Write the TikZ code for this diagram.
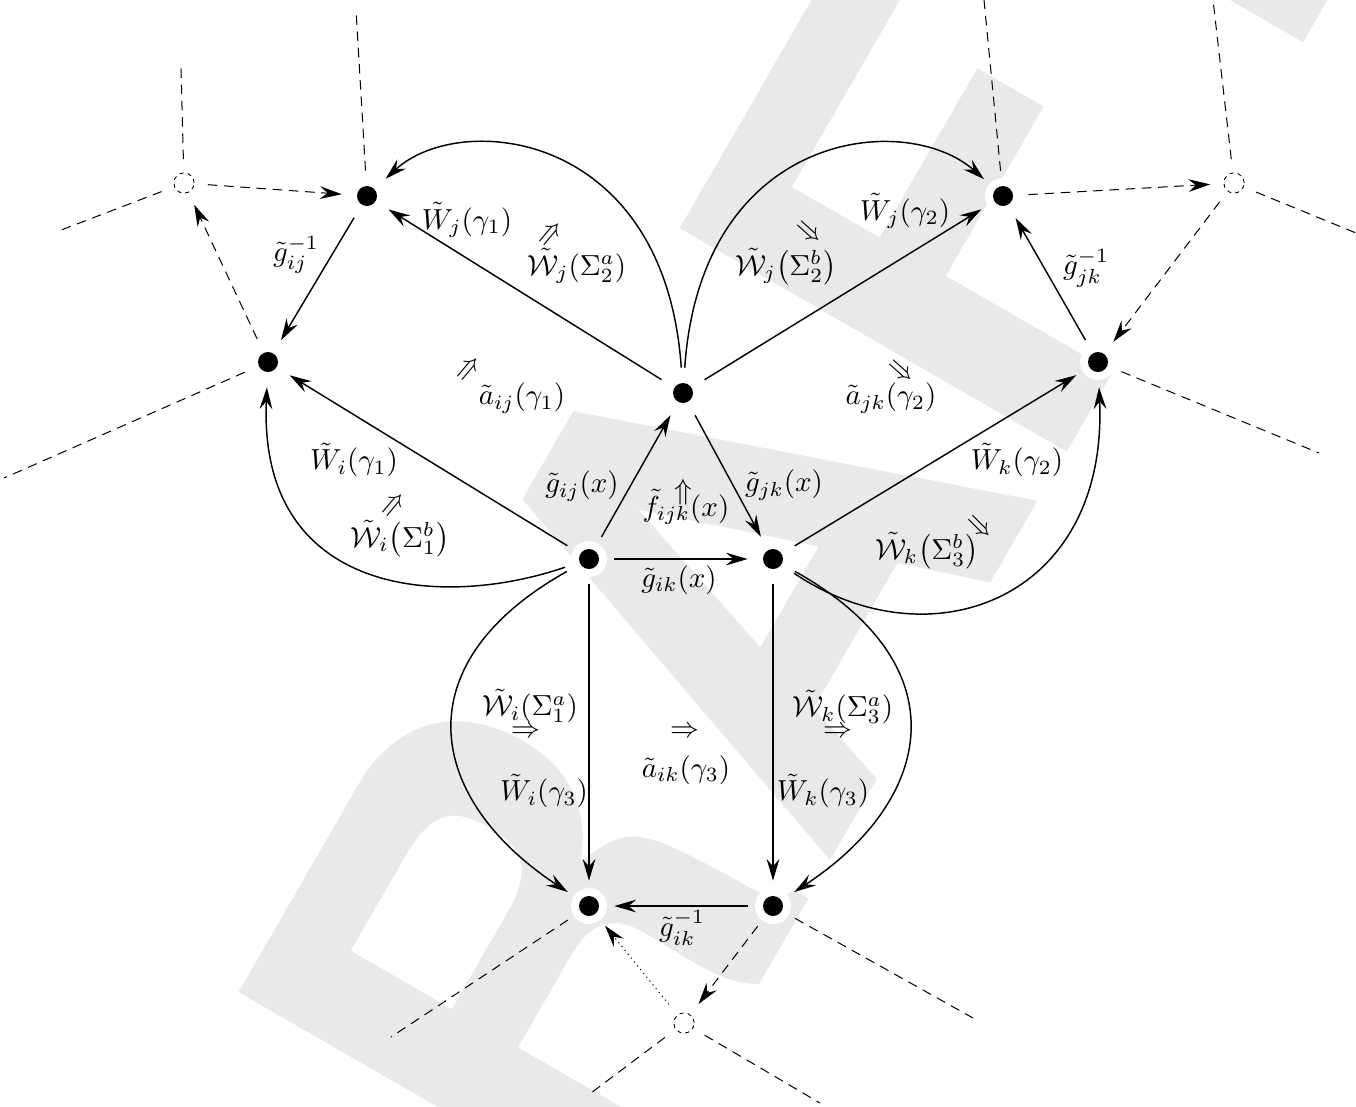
\documentclass[tikz,border=0pt]{standalone}
\usepackage{amsmath,amssymb}
\usepackage{fontspec}
\newfontfamily\wmfont{TeX Gyre Heros}
\usetikzlibrary{arrows.meta}
\definecolor{wm}{gray}{0.915}
\tikzset{
  dot/.style={circle, minimum size=17pt, inner sep=0pt,
    path picture={\fill[white] (path picture bounding box.center) circle (6.2pt);
                  \fill[black] (path picture bounding box.center) circle (3.45pt);}},
  ghost/.style={circle, minimum size=16pt, inner sep=0pt,
    path picture={\draw[dash pattern=on 1.4pt off 1.4pt, line width=0.3pt] (path picture bounding box.center) circle (3.5pt);}},
  ar/.style={-{Stealth[length=7.5pt,width=4.4pt,inset=2.6pt]}},
  dsh/.style={dash pattern=on 3.3pt off 2.3pt, line width=0.35pt},
  dtt/.style={dash pattern=on 0.4pt off 1.3pt, line width=0.35pt},
  lbl/.style={inner sep=0pt},
  cell/.style={inner sep=0pt},
}
\begin{document}
\begin{tikzpicture}[x=0.345pt, y=-0.345pt, line width=0.5pt]
\useasboundingbox (0,0) rectangle (1356,1106);
% watermark
\node[rotate=60, anchor=base west, inner sep=0pt, text=wm,
      font=\wmfont\bfseries\fontsize{211.5}{211.5}\selectfont] (wmark) at (380,1642) {DRAFT};

% vertices
\node[dot] (A) at (367,196) {};
\node[dot] (B) at (268,362) {};
\node[dot] (C) at (683,393) {};
\node[dot] (D) at (589,559) {};
\node[dot] (E) at (773,559) {};
\node[dot] (F) at (1003,196) {};
\node[dot] (G) at (1098,362) {};
\node[dot] (H) at (589,906) {};
\node[dot] (I) at (773,906) {};
\node[ghost] (O1) at (184,183) {};
\node[ghost] (O2) at (1234,183) {};
\node[ghost] (O3) at (684,1023) {};

% free ends
\coordinate (a1) at (181,68);
\coordinate (a2) at (56,232);
\coordinate (a3) at (356,10);
\coordinate (a4) at (4,478);
\coordinate (b1) at (1213,0);
\coordinate (b2) at (1356,233);
\coordinate (b3) at (984,0);
\coordinate (b4) at (1319,453);
\coordinate (c1) at (391,1037);
\coordinate (c2) at (973,1018);
\coordinate (c3) at (587,1096);
\coordinate (c4) at (820,1103);

% dashed surroundings
\draw[dsh] (O1) -- (a1);
\draw[dsh] (O1) -- (a2);
\draw[dsh] (A) -- (a3);
\draw[dsh] (B) -- (a4);
\draw[dsh,ar] (O1) -- (A);
\draw[dsh,ar] (B) -- (O1);
\draw[dsh] (O2) -- (b1);
\draw[dsh] (O2) -- (b2);
\draw[dsh] (F) -- (b3);
\draw[dsh] (G) -- (b4);
\draw[dsh,ar] (F) -- (O2);
\draw[dsh,ar] (O2) -- (G);
\draw[dsh] (H) -- (c1);
\draw[dsh] (I) -- (c2);
\draw[dsh] (O3) -- (c3);
\draw[dsh] (O3) -- (c4);
\draw[dsh,ar] (I) -- (O3);
\draw[dtt,ar] (O3) -- (H);

% solid arrows
\draw[ar] (C) -- (A);
\draw[ar] (C) .. controls (665,130) and (460,110) .. (A);
\draw[ar] (C) -- (F);
\draw[ar] (C) .. controls (701,130) and (906,110) .. (F);
\draw[ar] (A) -- (B);
\draw[ar] (G) -- (F);
\draw[ar] (D) -- (B);
\draw[ar] (D) .. controls (440,610) and (258,595) .. (B);
\draw[ar] (E) -- (G);
\draw[ar] (E) .. controls (930,665) and (1108,600) .. (G);
\draw[ar] (D) -- (C);
\draw[ar] (C) -- (E);
\draw[ar] (D) -- (E);
\draw[ar] (D) -- (H);
\draw[ar] (D) .. controls (400,665) and (428,800) .. (H);
\draw[ar] (E) -- (I);
\draw[ar] (E) .. controls (962,665) and (934,800) .. (I);
\draw[ar] (I) -- (H);

% labels
\node[lbl] (l1) at (467,220) {$\tilde{W}_j(\gamma_1)$};
\node[lbl] (l2) at (577,266) {$\tilde{\mathcal{W}}_j(\Sigma_2^a)$};
\node[cell,rotate=50] (c2a) at (552,235) {$\Rightarrow$};
\node[lbl] (l3) at (296,255) {$\tilde{g}_{ij}^{-1}$};
\node[lbl] (l4) at (522,398) {$\tilde{a}_{ij}(\gamma_1)$};
\node[cell,rotate=50] (c1a) at (470,370) {$\Rightarrow$};
\node[lbl] (l5) at (354,460) {$\tilde{W}_i(\gamma_1)$};
\node[lbl] (l6) at (400,539) {$\tilde{\mathcal{W}}_i{\left(\Sigma_1^b\right)}$};
\node[cell,rotate=50] (c1b) at (395,506) {$\Rightarrow$};
\node[lbl] (l7) at (582,486) {$\tilde{g}_{ij}(x)$};
\node[lbl] (l8) at (686,507) {$\tilde{f}_{ijk}(x)$};
\node[cell] (cf) at (683,492) {$\Uparrow$};
\node[lbl] (l9) at (784,485) {$\tilde{g}_{jk}(x)$};
\node[lbl] (l10) at (679,580) {$\tilde{g}_{ik}(x)$};
\node[lbl] (l11) at (905,211) {$\tilde{W}_j(\gamma_2)$};
\node[lbl] (l12) at (786,267) {$\tilde{\mathcal{W}}_j{\left(\Sigma_2^b\right)}$};
\node[cell,rotate=-42] (c2b) at (808,233) {$\Rightarrow$};
\node[lbl] (l13) at (1086,268) {$\tilde{g}_{jk}^{-1}$};
\node[lbl] (l14) at (891,398) {$\tilde{a}_{jk}(\gamma_2)$};
\node[cell,rotate=-42] (c3a) at (900,372) {$\Rightarrow$};
\node[lbl] (l15) at (1017,460) {$\tilde{W}_k(\gamma_2)$};
\node[lbl] (l16) at (927,551) {$\tilde{\mathcal{W}}_k{\left(\Sigma_3^b\right)}$};
\node[cell,rotate=-45] (c3b) at (978,528) {$\Rightarrow$};
\node[lbl] (l17) at (530,706) {$\tilde{\mathcal{W}}_i(\Sigma_1^a)$};
\node[cell] (c4a) at (526,732) {$\Rightarrow$};
\node[cell] (c4b) at (685,732) {$\Rightarrow$};
\node[lbl] (l18) at (686,770) {$\tilde{a}_{ik}(\gamma_3)$};
\node[lbl] (l19) at (843,707) {$\tilde{\mathcal{W}}_k(\Sigma_3^a)$};
\node[cell] (c4c) at (838,732) {$\Rightarrow$};
\node[lbl] (l20) at (544,791) {$\tilde{W}_i(\gamma_3)$};
\node[lbl] (l21) at (823,791) {$\tilde{W}_k(\gamma_3)$};
\node[lbl] (l22) at (682,928) {$\tilde{g}_{ik}^{-1}$};
\end{tikzpicture}
\end{document}
